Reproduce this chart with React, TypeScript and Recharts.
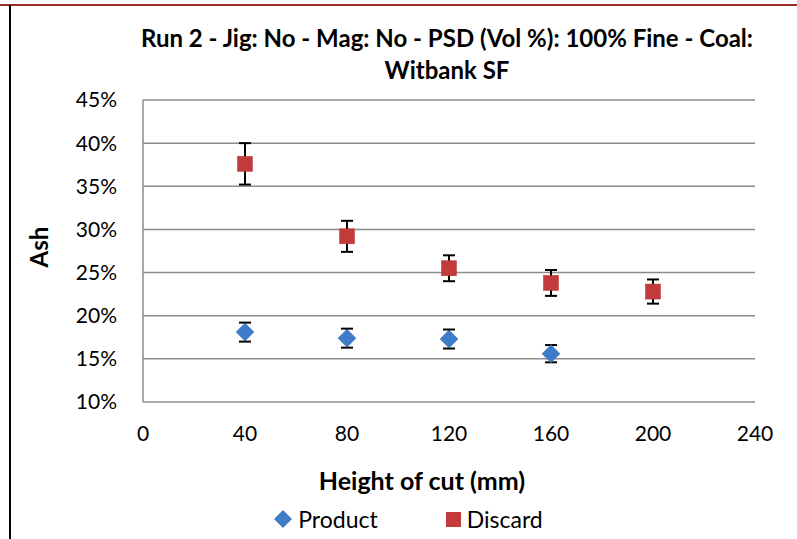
import React from 'react';
import {
  ComposedChart,
  Scatter,
  ErrorBar,
  XAxis,
  YAxis,
  CartesianGrid,
  Legend,
} from 'recharts';

const FONT = 'Lato, Carlito, Calibri, sans-serif';

// heights of cut (mm)
const productHeights = [40, 80, 120, 160];
const discardHeights = [40, 80, 120, 160, 200];

// ash (%) and error (+/- %)
const productAsh = [18.1, 17.4, 17.3, 15.6];
const productErr = [1.1, 1.1, 1.1, 1.0];
const discardAsh = [37.6, 29.2, 25.5, 23.8, 22.8];
const discardErr = [2.4, 1.8, 1.5, 1.5, 1.4];

const xTicks = [0, 40, 80, 120, 160, 200, 240];
const yTicks = [10, 15, 20, 25, 30, 35, 40, 45];

const productData = productHeights.map((h, i) => ({ h, ash: productAsh[i], err: productErr[i] }));
const discardData = discardHeights.map((h, i) => ({ h, ash: discardAsh[i], err: discardErr[i] }));

const BLUE = '#3f7cc7';
const RED = '#c33a3a';

function Diamond(props: any) {
  const { cx, cy } = props;
  const r = 9;
  return (
    <path
      d={`M${cx},${cy - r} L${cx + r},${cy} L${cx},${cy + r} L${cx - r},${cy} Z`}
      fill={BLUE}
      stroke="#3a70b4"
      strokeWidth={0.5}
    />
  );
}

function Square(props: any) {
  const { cx, cy } = props;
  const s = 7.5;
  return <rect x={cx - s} y={cy - s} width={s * 2} height={s * 2} fill={RED} stroke="#b33232" strokeWidth={0.5} />;
}

function LegendBox() {
  return (
    <div style={{ display: 'flex', justifyContent: 'center', gap: 68, fontFamily: FONT, fontSize: 23, color: '#000', paddingLeft: 20 }}>
      <div style={{ display: 'flex', alignItems: 'center', gap: 6 }}>
        <svg width={18} height={18}>
          <path d="M9,0 L18,9 L9,18 L0,9 Z" fill={BLUE} />
        </svg>
        <span>Product</span>
      </div>
      <div style={{ display: 'flex', alignItems: 'center', gap: 6 }}>
        <svg width={15} height={15}>
          <rect x={0} y={0} width={15} height={15} fill={RED} />
        </svg>
        <span>Discard</span>
      </div>
    </div>
  );
}

export default function App() {
  return (
    <div style={{ position: 'absolute', left: 0, top: 0, width: 797, height: 539, background: '#fff', overflow: 'hidden' }}>
      <div style={{ position: 'absolute', left: 0, top: 4, width: 797, height: 2, background: '#9b2a2a' }} />
      <div style={{ position: 'absolute', left: 9, top: 5, width: 2, height: 534, background: '#000' }} />
      <div
        style={{
          position: 'absolute',
          left: 100,
          width: 694,
          top: 22,
          textAlign: 'center',
          fontFamily: FONT,
          fontWeight: 700,
          fontSize: 24,
          lineHeight: '32px',
          color: '#000',
        }}
      >
        Run 2 - Jig: No - Mag: No - PSD (Vol %): 100% Fine - Coal:
        <br />
        Witbank SF
      </div>
      <ComposedChart
        width={797}
        height={539}
        margin={{ top: 100, right: 42, bottom: 0, left: 0 }}
        style={{ fontFamily: FONT }}
      >
        <CartesianGrid horizontal vertical={false} stroke="#8c8c8c" strokeWidth={1.5} />
        <XAxis
          type="number"
          dataKey="h"
          domain={[0, 240]}
          ticks={xTicks}
          height={137}
          axisLine={false}
          tickLine={false}
          tickSize={0}
          tickMargin={24}
          tick={{ fill: '#000', fontSize: 21 }}
          label={{
            content: (p: any) => {
              const vb = p.viewBox;
              return (
                <text x={vb.x + vb.width / 2 - 27} y={vb.y + 88} textAnchor="middle" fontFamily={FONT} fontWeight={700} fontSize={25} fill="#000">
                  Height of cut (mm)
                </text>
              );
            },
          }}
        />
        <YAxis
          type="number"
          domain={[10, 45]}
          ticks={yTicks}
          width={143}
          axisLine={{ stroke: '#8c8c8c', strokeWidth: 1.5 }}
          tickLine={false}
          tickSize={0}
          tickMargin={26}
          tickFormatter={(v: number) => `${v}%`}
          tick={{ fill: '#000', fontSize: 21 }}
          label={{
            content: (p: any) => {
              const vb = p.viewBox;
              const x = 48;
              const y = vb.y + vb.height / 2 - 4;
              return (
                <text x={x} y={y} transform={`rotate(-90, ${x}, ${y})`} textAnchor="middle" fontFamily={FONT} fontWeight={700} fontSize={24} fill="#000">
                  Ash
                </text>
              );
            },
          }}
        />
        <Scatter name="Product" data={productData} dataKey="ash" shape={<Diamond />} isAnimationActive={false}>
          <ErrorBar dataKey="err" direction="y" width={6} stroke="#000" strokeWidth={2} />
        </Scatter>
        <Scatter name="Discard" data={discardData} dataKey="ash" shape={<Square />} isAnimationActive={false}>
          <ErrorBar dataKey="err" direction="y" width={6} stroke="#000" strokeWidth={2} />
        </Scatter>
        <Legend
          layout="horizontal"
          verticalAlign="middle"
          align="center"
          content={() => <LegendBox />}
          wrapperStyle={{ top: 505, left: 0, width: 797 }}
        />
      </ComposedChart>
    </div>
  );
}
